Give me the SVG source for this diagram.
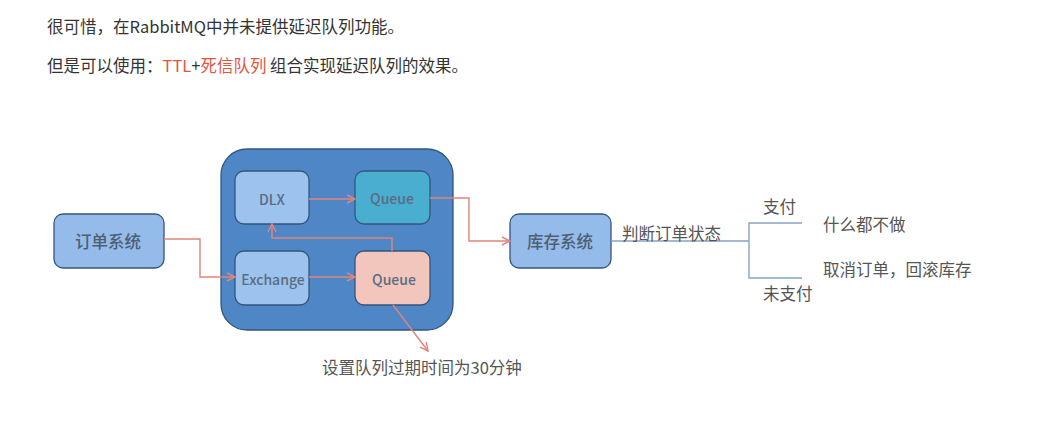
<svg xmlns="http://www.w3.org/2000/svg" width="1051" height="434" viewBox="0 0 1051 434">
<defs>
<style>
text{font-family:"Noto Sans CJK SC","Noto Sans",sans-serif;dominant-baseline:central}
.hd{font-size:16.5px;fill:#333}
.red{fill:#e5533f}
.lbl{font-size:16.5px;fill:#555}
.nt{font-size:16.5px;fill:#4d5e75;text-anchor:middle;font-weight:500}
.it{font-size:14px;fill:#5b6b82;text-anchor:middle;font-weight:500}
.box{stroke:#34557c;stroke-width:1.3}
.conn{fill:none;stroke:#e0857a;stroke-width:1.4}
.br{fill:none;stroke:#86a3c6;stroke-width:1.4}
</style>
<marker id="ah" markerWidth="10" markerHeight="10" refX="9" refY="5" orient="auto" markerUnits="userSpaceOnUse">
<path d="M1,1 L9,5 L1,9" fill="none" stroke="#e0857a" stroke-width="1.4"/>
</marker>
</defs>
<rect width="1051" height="434" fill="#fff"/>
<g id="header">
<text class="hd" x="47" y="26">很可惜，在RabbitMQ中并未提供延迟队列功能。</text>
<text class="hd" x="47" y="65">但是可以使用：<tspan class="red">TTL</tspan>+<tspan class="red">死信队列</tspan> 组合实现延迟队列的效果。</text>
</g>
<g id="rabbitmq">
<rect class="box" x="221" y="149" width="232" height="181" rx="26" fill="#4f86c6"/>
</g>
<g id="dlx">
<rect class="box" x="235" y="171" width="74" height="53" rx="9" fill="#9cc2ee"/>
<text class="it" x="272" y="199">DLX</text>
</g>
<g id="queue-top">
<rect class="box" x="355" y="171" width="75" height="53" rx="9" fill="#4aaed0"/>
<text class="it" x="392" y="198">Queue</text>
</g>
<g id="exchange">
<rect class="box" x="235" y="251" width="74" height="54" rx="9" fill="#9cc2ee"/>
<text class="it" x="273" y="279">Exchange</text>
</g>
<g id="queue-bottom">
<rect class="box" x="355" y="251" width="75" height="54" rx="9" fill="#f2c6bd"/>
<text class="it" x="394" y="279">Queue</text>
</g>
<g id="order">
<rect class="box" x="54" y="214" width="110" height="54" rx="9" fill="#94bbea"/>
<text class="nt" x="108" y="241">订单系统</text>
</g>
<g id="stock">
<rect class="box" x="510" y="214" width="101" height="54" rx="9" fill="#94bbea"/>
<text class="nt" x="560" y="241">库存系统</text>
</g>
<g id="connectors">
<path class="conn" d="M164,239 H200 V277 H235" marker-end="url(#ah)"/>
<path class="conn" d="M309,277 H355" marker-end="url(#ah)"/>
<path class="conn" d="M309,199 H355" marker-end="url(#ah)"/>
<path class="conn" d="M392,251 V238 H272 V224" marker-end="url(#ah)"/>
<path class="conn" d="M430,198 H469 V241 H510" marker-end="url(#ah)"/>
<path class="conn" d="M393,305 L428,351" marker-end="url(#ah)"/>
<path class="br" d="M611,241 H749"/>
<path class="br" d="M802,223 H749 V278 H802"/>
</g>
<g id="labels">
<text class="lbl" x="322" y="367">设置队列过期时间为30分钟</text>
<text class="lbl" x="622" y="233">判断订单状态</text>
<text class="lbl" x="763" y="206">支付</text>
<text class="lbl" x="763" y="293">未支付</text>
<text class="lbl" x="823" y="224">什么都不做</text>
<text class="lbl" x="823" y="269">取消订单，回滚库存</text>
</g>
</svg>
